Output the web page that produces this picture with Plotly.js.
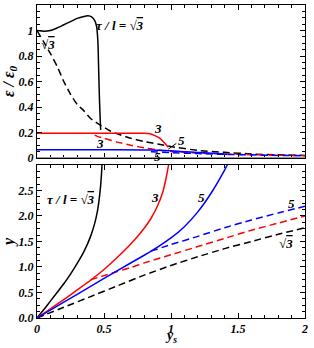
<!DOCTYPE html>
<html><head><meta charset="utf-8">
<script src="https://cdn.plot.ly/plotly-3.0.1.min.js"></script>
<style>html,body{margin:0;padding:0;background:#fff}#c{width:314px;height:348px}</style>
</head><body><div id="c"></div>
<script>
// ---- top panel: eps/eps0 vs ys ----
const epsBlackSolidX = [0,0.05,0.1,0.15,0.2,0.25,0.3,0.35,0.38,0.41,0.43,0.445,0.455,0.46,0.465,0.47,0.475];
const epsBlackSolidY = [1.0,0.995,1.0,1.02,1.045,1.07,1.095,1.11,1.115,1.105,1.08,1.03,0.9,0.7,0.5,0.35,0.22];
const epsBlackDashX = [0,0.05,0.1,0.15,0.2,0.25,0.3,0.35,0.4,0.47,0.55,0.6,0.7,0.8,0.9,1.0,1.2,1.4,1.6,1.8,2.0];
const epsBlackDashY = [1.0,0.91,0.82,0.72,0.6,0.5,0.42,0.37,0.31,0.26,0.21,0.19,0.155,0.13,0.11,0.09,0.06,0.045,0.032,0.025,0.021];
const epsRedSolidX = [0,0.2,0.4,0.6,0.8,0.843,0.88,0.918,0.955,0.98];
const epsRedSolidY = [0.195,0.195,0.195,0.195,0.194,0.19,0.176,0.154,0.115,0.085];
const epsRedDashX = [0.43,0.45,0.5,0.6,0.7,0.8,0.9,1.0,1.2,1.4,1.6,1.8,2.0];
const epsRedDashY = [0.18,0.17,0.155,0.125,0.1,0.08,0.065,0.052,0.04,0.032,0.026,0.022,0.019];
const epsBlueSolidX = [0,0.4,0.8,0.9,1.0,1.1,1.2,1.3,1.38,1.42];
const epsBlueSolidY = [0.065,0.065,0.064,0.062,0.057,0.05,0.044,0.038,0.033,0.028];
const epsBlueDashX = [0.85,1.0,1.2,1.4,1.6,1.8,2.0];
const epsBlueDashY = [0.05,0.042,0.035,0.029,0.025,0.021,0.018];

// ---- bottom panel: y vs ys ----
const yBlackSolidX = [0,0.05,0.1,0.15,0.2,0.25,0.3,0.35,0.4,0.43,0.45,0.465,0.475,0.482,0.485];
const yBlackSolidY = [0,0.16,0.33,0.5,0.67,0.86,1.07,1.3,1.6,1.85,2.08,2.35,2.6,2.85,3.0];
const yBlackDashX = [0,0.2,0.4,0.6,0.8,1.0,1.2,1.4,1.6,1.8,2.0];
const yBlackDashY = [0,0.21,0.42,0.63,0.84,1.03,1.2,1.36,1.5,1.64,1.77];
const yRedSolidX = [0,0.1,0.2,0.3,0.4,0.5,0.6,0.7,0.8,0.85,0.9,0.94,0.96,0.975,0.982];
const yRedSolidY = [0,0.18,0.36,0.55,0.74,0.95,1.19,1.45,1.76,1.95,2.2,2.48,2.7,2.9,3.0];
const yRedDashX = [0.4,0.5,0.6,0.7,0.8,0.9,1.0,1.2,1.4,1.6,1.8,2.0];
const yRedDashY = [0.75,0.83,0.91,0.99,1.08,1.16,1.24,1.4,1.56,1.72,1.86,2.0];
const yBlueSolidX = [0,0.2,0.4,0.6,0.8,0.9,1.0,1.1,1.2,1.3,1.4,1.42];
const yBlueSolidY = [0,0.31,0.62,0.93,1.23,1.39,1.57,1.79,2.08,2.45,2.9,3.0];
const yBlueDashX = [0.85,1.0,1.2,1.4,1.6,1.8,2.0];
const yBlueDashY = [1.31,1.44,1.6,1.77,1.92,2.06,2.19];

const topYTicks = [0,0.2,0.4,0.6,0.8,1,1.2];
const topYLabels = ['0','0.2','0.4','0.6','0.8','1','1.2'];
const botYTicks = [0,0.5,1,1.5,2,2.5];
const botYLabels = ['0.0','0.5','1.0','1.5','2.0','2.5'];
const xTicks = [0,0.5,1,1.5,2];
const xLabels = ['0','0.5','1','1.5','2'];

const BLACK='#000000', RED='#ff0000', BLUE='#0000ff';
const DASH='7px,4px';
function tr(x,y,color,dash,xa,ya){
  return {x:x,y:y,type:'scatter',mode:'lines',xaxis:xa,yaxis:ya,
    line:{color:color,width:1.5,dash:dash?DASH:'solid',shape:'spline',smoothing:0.5},
    hoverinfo:'skip',showlegend:false};
}
const data = [
  tr(epsBlackDashX,epsBlackDashY,BLACK,true,'x','y'),
  tr(epsRedDashX,epsRedDashY,RED,true,'x','y'),
  tr(epsBlueDashX,epsBlueDashY,BLUE,true,'x','y'),
  tr(epsBlackSolidX,epsBlackSolidY,BLACK,false,'x','y'),
  tr(epsRedSolidX,epsRedSolidY,RED,false,'x','y'),
  tr(epsBlueSolidX,epsBlueSolidY,BLUE,false,'x','y'),
  tr(yBlackDashX,yBlackDashY,BLACK,true,'x2','y2'),
  tr(yRedDashX,yRedDashY,RED,true,'x2','y2'),
  tr(yBlueDashX,yBlueDashY,BLUE,true,'x2','y2'),
  tr(yBlackSolidX,yBlackSolidY,BLACK,false,'x2','y2'),
  tr(yRedSolidX,yRedSolidY,RED,false,'x2','y2'),
  tr(yBlueSolidX,yBlueSolidY,BLUE,false,'x2','y2')
];

const FONT = {family:'Liberation Serif', color:'#000'};
const tickFont = Object.assign({}, FONT, {size:12});
const annFont = Object.assign({}, FONT, {size:13});
function bi(s){ return '<b><i>'+s+'</i></b>'; }
const SQ3 = '√<span style="text-decoration:overline">3</span>';

function xax(anchor, showLabels){
  return {anchor:anchor, domain:[0,1], range:[0,2], showline:true, linecolor:'#000', linewidth:1, mirror:'ticks',
    ticks:'inside', ticklen:5, tickwidth:1, tickcolor:'#000', tickvals:xTicks, ticktext:xLabels.map(bi),
    showticklabels:showLabels, tickfont:tickFont, showgrid:false, zeroline:false,
    minor:{ticks:'inside', ticklen:3, dtick:0.1, tick0:0, tickcolor:'#000', showgrid:false}};
}
const layout = {
  width:314, height:348,
  margin:{l:37, r:9, t:5, b:30},
  paper_bgcolor:'#fff', plot_bgcolor:'#fff',
  font:{family:'Liberation Serif'},
  showlegend:false,
  xaxis: xax('y', false),
  yaxis: {anchor:'x', domain:[0.511,1], range:[0,1.2], showline:true, linecolor:'#000', mirror:'ticks',
    ticks:'inside', ticklen:5, tickcolor:'#000', tickvals:topYTicks, ticktext:topYLabels.map(bi),
    tickfont:tickFont, showgrid:false, zeroline:false,
    minor:{ticks:'inside', ticklen:3, dtick:0.05, tick0:0, tickcolor:'#000', showgrid:false},
    title:{text:bi('ε / ε<sub>0</sub>'), font:Object.assign({},FONT,{size:16}), standoff:5}},
  xaxis2: xax('y2', true),
  yaxis2: {anchor:'x2', domain:[0,0.489], range:[0,3], showline:true, linecolor:'#000', mirror:'ticks',
    ticks:'inside', ticklen:5, tickcolor:'#000', tickvals:botYTicks, ticktext:botYLabels.map(bi),
    tickfont:tickFont, showgrid:false, zeroline:false,
    minor:{ticks:'inside', ticklen:3, dtick:0.125, tick0:0, tickcolor:'#000', showgrid:false},
    title:{text:bi('y'), font:Object.assign({},FONT,{size:16}), standoff:5}},
  shapes:[
    {type:'line', xref:'x', yref:'y', x0:0, x1:2, y0:0, y1:0, line:{color:'#999', width:2}, layer:'above'},
    {type:'line', xref:'x', yref:'y', x0:0.98, x1:1.04, y0:0.07, y1:0.115, line:{color:'#000', width:1}}
  ],
  annotations:[
    {xref:'paper', yref:'paper', x:0.5, y:-0.06, xanchor:'center', yanchor:'middle', borderpad:0, text:bi('y<sub>s</sub>'), showarrow:false, font:Object.assign({},FONT,{size:14})},
    {xref:'x', yref:'y', x:0.62, y:1.04, text:bi('τ / l = '+SQ3), showarrow:false, font:annFont},
    {xref:'x', yref:'y', x:0.08, y:0.89, text:bi(SQ3), showarrow:false, font:annFont},
    {xref:'x', yref:'y', x:0.9, y:0.235, text:bi('3'), showarrow:false, font:annFont},
    {xref:'x', yref:'y', x:0.47, y:0.115, text:bi('3'), showarrow:false, font:annFont},
    {xref:'x', yref:'y', x:1.08, y:0.14, text:bi('5'), showarrow:false, font:annFont},
    {xref:'x', yref:'y', x:0.9, y:0.015, text:bi('5'), showarrow:false, font:annFont},
    {xref:'x2', yref:'y2', x:0.25, y:2.32, text:bi('τ / l = '+SQ3), showarrow:false, font:annFont},
    {xref:'x2', yref:'y2', x:0.88, y:2.36, text:bi('3'), showarrow:false, font:annFont},
    {xref:'x2', yref:'y2', x:1.23, y:2.36, text:bi('5'), showarrow:false, font:annFont},
    {xref:'x2', yref:'y2', x:1.9, y:2.24, text:bi('5'), showarrow:false, font:annFont},
    {xref:'x2', yref:'y2', x:2.035, y:1.99, text:bi('3'), showarrow:false, font:annFont},
    {xref:'x2', yref:'y2', x:1.86, y:1.47, text:bi(SQ3), showarrow:false, font:annFont}
  ]
};
Plotly.newPlot('c', data, layout, {staticPlot:true, displayModeBar:false});
</script></body></html>
